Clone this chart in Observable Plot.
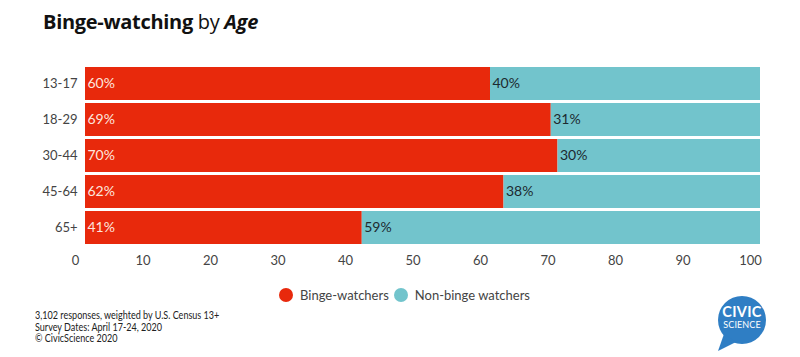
<!DOCTYPE html>
<html><head><meta charset="utf-8">
<script src="https://cdn.jsdelivr.net/npm/d3@7"></script>
<script src="https://cdn.jsdelivr.net/npm/@observablehq/plot@0.6"></script>
<style>
body{margin:0;background:#fff;width:800px;height:357px;position:relative;overflow:hidden;font-family:Lato,"Open Sans",sans-serif;}
#title{position:absolute;left:43px;top:8px;font-family:"Open Sans",sans-serif;font-size:20px;color:#111;letter-spacing:-0.3px}
#title b{font-weight:700}
#chart{position:absolute;left:0;top:52px}
#legend{position:absolute;top:287px;left:279px;font-size:13px;color:#444;display:flex;align-items:center;font-family:Lato,sans-serif}
#legend .dot{width:14px;height:14px;border-radius:50%;display:inline-block;margin:0 7px 0 0}
#legend .lab{margin-right:5px}
#foot{position:absolute;left:35px;top:310px;font-size:10.5px;line-height:11.5px;color:#222;font-family:Lato,sans-serif;transform:scaleX(0.86);transform-origin:0 0;white-space:nowrap}
#logo{position:absolute;left:708px;top:290px}
</style></head><body>
<div id="title"><b>Binge-watching</b> by <b><i>Age</i></b></div>
<div id="chart"></div>
<div id="legend"></div>
<div id="foot">3,102 responses, weighted by U.S. Census 13+<br>Survey Dates: April 17-24, 2020<br>© CivicScience 2020</div>
<svg id="logo" width="70" height="67" viewBox="0 0 70 67">
<circle cx="34" cy="30" r="24" fill="#2f7ec4"/>
<path d="M16 44 L10 61 L28 52 Z" fill="#2f7ec4"/>
<text x="34" y="27" text-anchor="middle" fill="#fff" font-family="Lato,sans-serif" font-size="14.5" font-weight="700" letter-spacing="0.3">CIVIC</text>
<text x="34" y="38" text-anchor="middle" fill="#fff" font-family="Lato,sans-serif" font-size="9" letter-spacing="0.1">SCIENCE</text>
</svg>
<script>
const ages = ["13-17","18-29","30-44","45-64","65+"];
const binge = [60,69,70,62,41];
const nonBinge = [40,31,30,38,59];
const seriesNames = ["Binge-watchers","Non-binge watchers"];
const seriesColors = ["#e8290c","#72c4cc"];
const xTicks = [0,10,20,30,40,50,60,70,80,90,100];

const rows = [];
ages.forEach((a,i)=>{
  rows.push({age:a, series:seriesNames[0], value:binge[i], x1:0, x2:binge[i]});
  rows.push({age:a, series:seriesNames[1], value:nonBinge[i], x1:binge[i], x2:binge[i]+nonBinge[i]});
});

const chart = Plot.plot({
  width:800, height:222,
  marginLeft:85, marginRight:40, marginTop:13, marginBottom:28,
  style:{fontFamily:"Lato, 'Open Sans', sans-serif", fontSize:"13px", color:"#333"},
  x:{domain:[0,100], ticks:xTicks, tickSize:0, tickPadding:9, label:null},
  y:{domain:ages, paddingInner:0.09, paddingOuter:0.05, tickSize:0, tickPadding:8, label:null},
  color:{domain:seriesNames, range:seriesColors},
  marks:[
    Plot.ruleX([0],{stroke:"#e6e6e6", y1:ages[0], y2:ages[ages.length-1], insetTop:-18, insetBottom:-42}),
    Plot.barX(rows,{y:"age", x1:"x1", x2:"x2", fill:"series"}),
    Plot.text(rows.filter(d=>d.series===seriesNames[0]),{y:"age", x:"x1", text:d=>d.value+"%", textAnchor:"start", dx:2, fill:"#fde6df", fontSize:14}),
    Plot.text(rows.filter(d=>d.series===seriesNames[1]),{y:"age", x:"x1", text:d=>d.value+"%", textAnchor:"start", dx:2, fill:"#1d2a30", fontSize:14}),
    Plot.axisX({ticks:xTicks, tickSize:0, tickPadding:9, dx:-10, fontSize:13, fill:"#444"}),
    Plot.axisY({tickSize:0, tickPadding:8, fontSize:13, fill:"#444"})
  ]
});
document.getElementById("chart").appendChild(chart);

const leg = document.getElementById("legend");
seriesNames.forEach((s,i)=>{
  const d=document.createElement("span");d.className="dot";d.style.background=seriesColors[i];
  const t=document.createElement("span");t.className="lab";t.textContent=s;
  leg.appendChild(d);leg.appendChild(t);
});
</script>
</body></html>
